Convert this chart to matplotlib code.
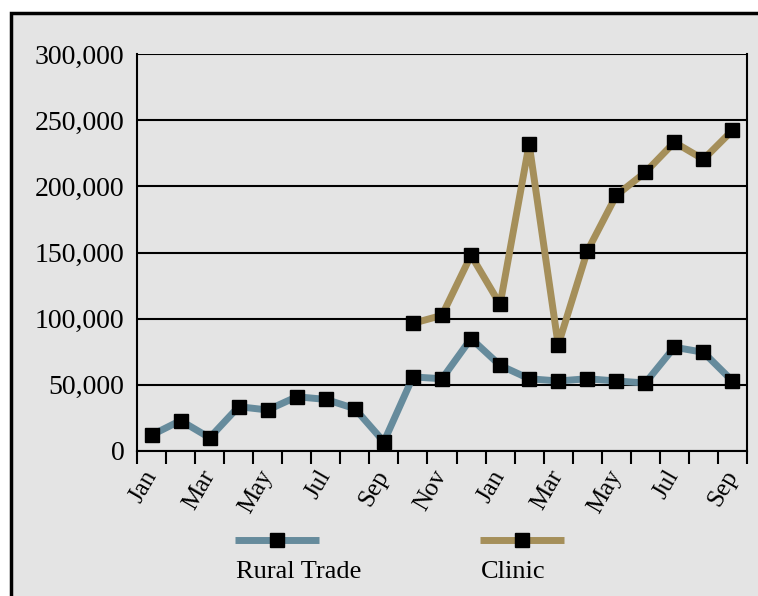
import matplotlib
matplotlib.use("Agg")
import matplotlib.pyplot as plt
from matplotlib.lines import Line2D
from matplotlib.patches import Rectangle
import numpy as np

months = ["Jan", "Feb", "Mar", "Apr", "May", "Jun", "Jul", "Aug", "Sep", "Oct", "Nov", "Dec",
          "Jan", "Feb", "Mar", "Apr", "May", "Jun", "Jul", "Aug", "Sep"]
rural_trade = [12000, 23000, 10000, 33500, 31000, 41000, 39000, 32000, 7000, 56000, 54600, 85000,
               64700, 54600, 52900, 54600, 52900, 51400, 78400, 74600, 52900]
clinic = [None] * 9 + [96500, 102500, 147900, 110800, 232000, 80100, 150900, 193200, 210600,
                       233300, 220400, 242300]
yticks = [0, 50000, 100000, 150000, 200000, 250000, 300000]

c_rural = "#668b9c"
c_clinic = "#a58f5a"
bg = "#e4e4e4"

plt.rcParams['font.family'] = ['Liberation Serif', 'DejaVu Serif']

fig = plt.figure(figsize=(7.58, 5.96), dpi=100)
fig.patch.set_facecolor("white")
fig.patches.append(Rectangle((11/758, -0.02), 1.05, 1 - 13/596 + 0.02, transform=fig.transFigure,
                             facecolor=bg, edgecolor="black", lw=2.5, zorder=-10))

ax = fig.add_axes([137/758, 1 - 451/596, 610/758, 397/596])
ax.set_facecolor(bg)
x = np.arange(len(months))
cl = np.array([np.nan if v is None else v for v in clinic], dtype=float)

ax.plot(x, rural_trade, color=c_rural, lw=5, marker="s", ms=10, mfc="black", mec="black", zorder=3)
ax.plot(x, cl, color=c_clinic, lw=5, marker="s", ms=10, mfc="black", mec="black", zorder=3)

ax.set_xlim(-0.5, len(months) - 0.5)
ax.set_ylim(0, 300000)
ax.set_yticks(yticks)
ax.set_yticklabels([f"{v:,}" for v in yticks], fontsize=20)
ax.tick_params(axis="y", length=0, pad=9)
ax.yaxis.grid(True, color="black", lw=1.5)
ax.set_axisbelow(True)

ax.set_xticks(x[::2])
ax.set_xticklabels(months[::2], fontsize=18, rotation=60, ha="right", va="center",
                   rotation_mode="anchor")
ax.tick_params(axis="x", which="major", length=0, pad=15)
ax.set_xticks(np.arange(-0.5, len(months)), minor=True)
ax.tick_params(axis="x", which="minor", length=9, width=1.5, color="black")

for s in ["left", "bottom", "right"]:
    ax.spines[s].set_color("black")
    ax.spines[s].set_linewidth(1.5)
ax.spines["top"].set_visible(False)

# legend
for (x0, label, col) in [(235, "Rural Trade", c_rural), (480, "Clinic", c_clinic)]:
    yy = 1 - 540/596
    fig.add_artist(Line2D([x0/758, (x0+84)/758], [yy, yy], transform=fig.transFigure,
                          color=col, lw=5, solid_capstyle="butt"))
    fig.add_artist(Line2D([(x0+42)/758], [yy], transform=fig.transFigure, marker="s",
                          ms=10, mfc="black", mec="black", ls="none"))
    fig.text((x0+1)/758, 1 - 572/596, label, fontsize=19, ha="left", va="center")

fig.savefig("out.png", dpi=100, facecolor=fig.get_facecolor())
